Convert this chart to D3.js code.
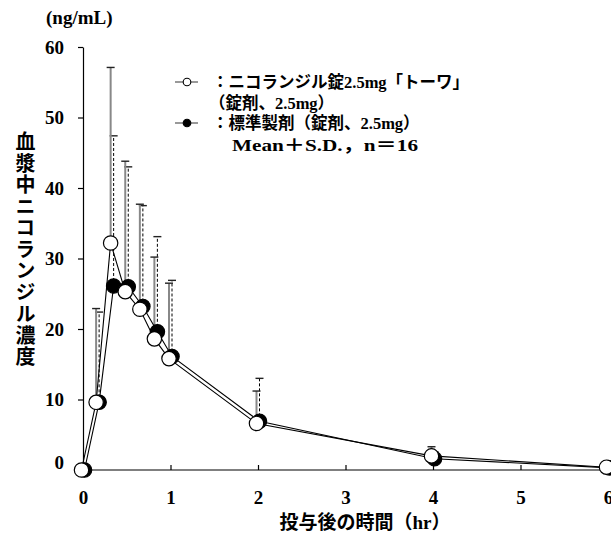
<!DOCTYPE html>
<html>
<head>
<meta charset="utf-8">
<script src="https://cdn.jsdelivr.net/npm/d3@7"></script>
<style>
  html, body { margin: 0; padding: 0; background: #fff; }
  svg { display: block; }
  text { font-family: "Liberation Serif", "Noto Sans CJK JP", serif; font-weight: bold; fill: #000; }
</style>
</head>
<body>
<svg id="chart" width="611" height="533"></svg>
<script>
// 時間 (hr)
var times = [0, 0.167, 0.333, 0.5, 0.667, 0.833, 1, 2, 4, 6];
// ニコランジル錠2.5mg「トーワ」
var testMean = [0, 9.6, 32.2, 25.3, 22.8, 18.6, 15.8, 6.6, 2.0, 0.4];
var testSD   = [0, 13.3, 24.9, 18.5, 14.9, 11.6, 10.7, 4.6, 1.3, 0.4];
// 標準製剤
var refMean  = [0, 9.6, 26.1, 26.0, 23.2, 19.6, 16.1, 6.9, 1.6, 0.3];
var refSD    = [0, 12.8, 21.3, 17.0, 14.3, 13.5, 10.8, 6.1, 1.0, 0.3];

var yTicks = [0, 10, 20, 30, 40, 50, 60];
var xTicks = [0, 1, 2, 3, 4, 5, 6];

var legendLabels = ['：ニコランジル錠2.5mg「トーワ」', '（錠剤、2.5mg）', '：標準製剤（錠剤、2.5mg）', 'Mean＋S.D.，n＝16'];

var svg = d3.select('#chart');

var x = d3.scaleLinear().domain([0, 6]).range([83, 608]);
var y = d3.scaleLinear().domain([0, 60]).range([470, 47]);

//系列ごとの少しのずらし
var offTest = -1.5, offRef = 1.5;
var r = 7.2;

function rows(mean, sd) {
    return times.map(function (t, i) { return { t: t, m: mean[i], s: sd[i] }; });
}
var testData = rows(testMean, testSD);
var refData = rows(refMean, refSD);

// y軸
var yAxis = svg.append('g')
    .attr('transform', 'translate(83,0)')
    .call(d3.axisLeft(y).tickValues(yTicks).tickSizeInner(5).tickSizeOuter(0).tickPadding(14));
yAxis.selectAll('path, line').attr('stroke', '#000').attr('stroke-width', 1.2);
yAxis.selectAll('text')
    .style('font-size', '19px')
    .attr('dy', function (d) { return d === 0 ? '-0.1em' : '0.34em'; });

// x軸
var xAxis = svg.append('g')
    .attr('transform', 'translate(0,470)')
    .call(d3.axisBottom(x).tickValues(xTicks).tickFormat(d3.format('d')).tickSizeInner(-5).tickSizeOuter(0));
xAxis.select('.domain').remove();
xAxis.selectAll('line').attr('stroke', '#000').attr('stroke-width', 1.2);
xAxis.selectAll('text').style('font-size', '19px').attr('y', 34).attr('dy', 0);
svg.append('line')
    .attr('x1', 83).attr('x2', 611).attr('y1', 470).attr('y2', 470)
    .attr('stroke', '#000').attr('stroke-width', 1.2);

// 軸タイトル
svg.append('text').attr('x', 46).attr('y', 24).style('font-size', '19px').text('(ng/mL)');
svg.append('text')
    .attr('x', 365).attr('y', 529)
    .attr('text-anchor', 'middle')
    .style('font-size', '19px')
    .text('投与後の時間（hr）');
svg.append('text')
    .attr('transform', 'translate(24,250)')
    .attr('text-anchor', 'middle')
    .style('writing-mode', 'vertical-rl')
    .style('font-size', '20px')
    .style('letter-spacing', '1.5px')
    .text('血漿中ニコランジル濃度');

// エラーバー
function errorBars(data, off, dashed) {
    var g = svg.append('g');
    var e = data.filter(function (d) { return d.s > 0; });
    g.selectAll('line.bar').data(e).enter().append('line')
        .attr('x1', function (d) { return x(d.t) + off; })
        .attr('x2', function (d) { return x(d.t) + off; })
        .attr('y1', function (d) { return y(d.m); })
        .attr('y2', function (d) { return y(d.m + d.s); })
        .attr('stroke', dashed ? '#000' : '#888')
        .attr('stroke-width', dashed ? 1 : 2)
        .attr('stroke-dasharray', dashed ? '3,2' : null);
    g.selectAll('line.cap').data(e).enter().append('line')
        .attr('x1', function (d) { return x(d.t) + off - 4; })
        .attr('x2', function (d) { return x(d.t) + off + 4; })
        .attr('y1', function (d) { return y(d.m + d.s); })
        .attr('y2', function (d) { return y(d.m + d.s); })
        .attr('stroke', '#222')
        .attr('stroke-width', 1.4);
}
errorBars(refData, offRef, true);
errorBars(testData, offTest, false);

// 折れ線
function drawLine(data, off) {
    svg.append('path')
        .datum(data)
        .attr('fill', 'none')
        .attr('stroke', '#000')
        .attr('stroke-width', 1.1)
        .attr('d', d3.line().x(function (d) { return x(d.t) + off; }).y(function (d) { return y(d.m); }));
}
drawLine(refData, offRef);
drawLine(testData, offTest);

// マーカー
svg.append('g').selectAll('circle').data(refData).enter().append('circle')
    .attr('cx', function (d) { return x(d.t) + offRef; })
    .attr('cy', function (d) { return y(d.m); })
    .attr('r', r)
    .attr('fill', '#000').attr('stroke', '#000').attr('stroke-width', 1.2);
svg.append('g').selectAll('circle').data(testData).enter().append('circle')
    .attr('cx', function (d) { return x(d.t) + offTest; })
    .attr('cy', function (d) { return y(d.m); })
    .attr('r', r)
    .attr('fill', '#fff').attr('stroke', '#000').attr('stroke-width', 1.2);

// 凡例
var leg = svg.append('g');
[{ y: 82, fill: '#fff' }, { y: 123, fill: '#000' }].forEach(function (d) {
    leg.append('line').attr('x1', 175).attr('x2', 198).attr('y1', d.y).attr('y2', d.y)
        .attr('stroke', '#555').attr('stroke-width', 1.2);
    leg.append('circle').attr('cx', 187).attr('cy', d.y).attr('r', 3.8)
        .attr('fill', d.fill).attr('stroke', '#000').attr('stroke-width', 1.1);
});
var legPos = [[212, 82], [209, 103], [212, 123], [232, 145]];
legendLabels.forEach(function (s, i) {
    var t = leg.append('text')
        .attr('x', legPos[i][0]).attr('y', legPos[i][1])
        .attr('dy', '0.36em')
        .style('font-size', i === 3 ? '17px' : '16.5px')
        .text(s);
    if (i === 3) t.attr('textLength', 186).attr('lengthAdjust', 'spacingAndGlyphs');
});
</script>
</body>
</html>
